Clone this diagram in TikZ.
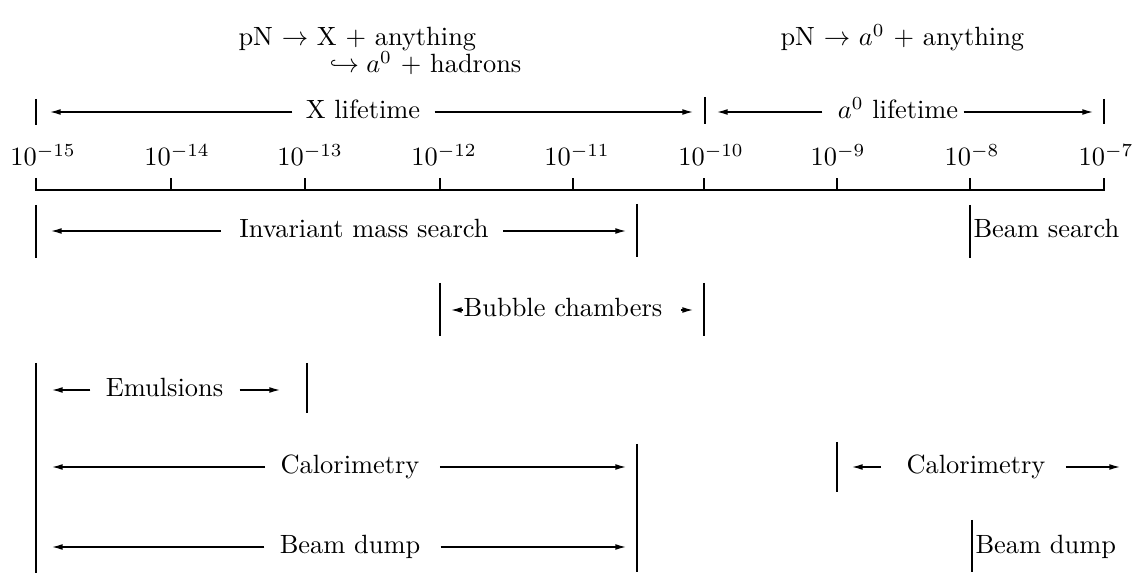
\documentclass[tikz,border=0pt]{standalone}
\usetikzlibrary{arrows.meta,calc}
\begin{document}
\begin{tikzpicture}[x=0.3788pt,y=-0.3788pt,
  bar/.style={line width=0.75pt},
  axis/.style={line width=0.6pt},
  arr/.style={line width=0.5pt,-{Latex[length=4pt,width=2.2pt]}},
  lbl/.style={inner sep=0pt,text height=5pt,text depth=0pt},
  ttl/.style={inner sep=0pt,anchor=base west},
  ticklbl/.style={inner sep=0pt,anchor=base}]
\useasboundingbox (0,0) rectangle (1137,584);

% titles
\node[ttl] (t1) at (238,46) {\rlap{\hspace*{34.5pt}\raisebox{-10.2pt}[0pt][0pt]{$\hookrightarrow a^0$ $+$ hadrons}}pN $\rightarrow$ X $+$ anything};
\node[ttl] (t3) at (780,46) {pN $\rightarrow$ $a^0$ $+$ anything};

% lifetime row
\draw[bar] (36,99) -- (36,125);
\draw[bar] (705,97) -- (705,124);
\draw[bar] (1104,99) -- (1104,124);
\node[lbl] (xl) at (363,112) {X lifetime};
\node[lbl] (al) at (898,112) {$a^0$ lifetime};
\coordinate (xlL) at (50,112);
\coordinate (xlR) at (693,112);
\coordinate (alL) at (717,112);
\coordinate (alR) at (1093,112);
\draw[arr] ($(xl.west)+(-13,0)$) -- (xlL);
\draw[arr] ($(xl.east)+(14,0)$) -- (xlR);
\draw[arr] ($(al.west)+(-15,0)$) -- (alL);
\draw[arr] ($(al.east)+(5,0)$) -- (alR);

% axis
\draw[axis] (36,178) -- (36,190) -- (1104,190) -- (1104,178);
\foreach \x in {171,305,440,573,704,837,970}
  \draw[axis] (\x,190) -- (\x,178);
\node[ticklbl] (e15) at (43,166) {$10^{-15}$};
\node[ticklbl] (e14) at (177,166) {$10^{-14}$};
\node[ticklbl] (e13) at (310,166) {$10^{-13}$};
\node[ticklbl] (e12) at (444,166) {$10^{-12}$};
\node[ticklbl] (e11) at (577,166) {$10^{-11}$};
\node[ticklbl] (e10) at (711,166) {$10^{-10}$};
\node[ticklbl] (e9) at (838,166) {$10^{-9}$};
\node[ticklbl] (e8) at (972,166) {$10^{-8}$};
\node[ticklbl] (e7) at (1106,166) {$10^{-7}$};

% invariant mass search
\draw[bar] (36,205) -- (36,258);
\draw[bar] (637,204) -- (637,257);
\node[lbl] (ims) at (364,231) {Invariant mass search};
\coordinate (imsL) at (51,231);
\coordinate (imsR) at (626,231);
\draw[arr] ($(ims.west)+(-18,0)$) -- (imsL);
\draw[arr] ($(ims.east)+(14,0)$) -- (imsR);

% beam search
\draw[bar] (970,205) -- (970,258);
\node[lbl,anchor=west] (bs) at (973,231) {Beam search};

% bubble chambers
\draw[bar] (440,283) -- (440,336);
\draw[bar] (704,283) -- (704,336);
\node[lbl] (bc) at (563,310) {Bubble chambers};
\coordinate (bcL) at (451,310);
\coordinate (bcR) at (693,310);
\draw[arr] (bc.west) -- (bcL);
\draw[arr] ($(bc.east)+(18,0)$) -- (bcR);

% emulsions
\draw[bar] (36,363) -- (36,573);
\draw[bar] (307,363) -- (307,413);
\node[lbl] (em) at (164.5,390) {Emulsions};
\coordinate (emL) at (52,390);
\coordinate (emR) at (280,390);
\draw[arr] ($(em.west)+(-15,0)$) -- (emL);
\draw[arr] ($(em.east)+(16,0)$) -- (emR);

% calorimetry (left)
\draw[bar] (637,444) -- (637,572);
\node[lbl] (cal) at (350,467) {Calorimetry};
\coordinate (calL) at (52,467);
\coordinate (calR) at (626,467);
\draw[arr] ($(cal.west)+(-15,0)$) -- (calL);
\draw[arr] ($(cal.east)+(20,0)$) -- (calR);

% calorimetry (right)
\draw[bar] (837,442) -- (837,492);
\node[lbl] (calb) at (976,467) {Calorimetry};
\coordinate (calbL) at (852,467);
\coordinate (calbR) at (1120,467);
\draw[arr] ($(calb.west)+(-25,0)$) -- (calbL);
\draw[arr] ($(calb.east)+(20,0)$) -- (calbR);

% beam dump (left)
\node[lbl] (bd) at (350,547) {Beam dump};
\coordinate (bdL) at (52,547);
\coordinate (bdR) at (626,547);
\draw[arr] ($(bd.west)+(-15,0)$) -- (bdL);
\draw[arr] ($(bd.east)+(20,0)$) -- (bdR);

% beam dump (right)
\draw[bar] (972,520) -- (972,572);
\node[lbl,anchor=west] (bdb) at (975,547) {Beam dump};
\end{tikzpicture}
\end{document}
